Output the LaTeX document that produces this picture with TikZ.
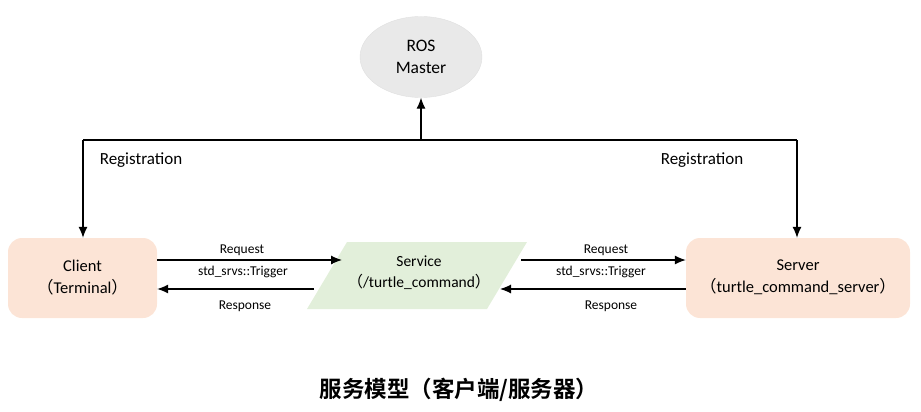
\documentclass[tikz,border=0pt]{standalone}
\usepackage{fontspec}
\setmainfont{Carlito}
\newfontfamily\cjk{Noto Sans CJK SC}
\newfontfamily\cjkbold{Noto Sans CJK SC Bold}
\usetikzlibrary{arrows.meta,shapes.geometric}
\definecolor{peach}{HTML}{FCE4D6}
\definecolor{svcgreen}{HTML}{E2EFDA}
\definecolor{mastergray}{HTML}{E9E9E9}
\tikzset{
  x=1pt,y=-1pt,
  conn/.style={line width=1.1pt,-{Latex[length=11pt,width=9pt]}},
  plain/.style={line width=1.1pt},
  endbox/.style={fill=peach,draw=none,rounded corners=14pt,minimum height=80pt,align=center,font=\fontsize{16.5}{22}\selectfont},
  lbl/.style={font=\fontsize{13.5}{15}\selectfont,inner sep=0pt},
  reg/.style={font=\fontsize{17}{19}\selectfont,inner sep=0pt},
}
\begin{document}
\begin{tikzpicture}
\useasboundingbox (0,0) rectangle (921,412);
% ROS Master
\node[ellipse,fill=mastergray,draw=black!12,minimum width=122pt,minimum height=81pt,align=center,font=\fontsize{17.5}{22}\selectfont] (master) at (421,57) {ROS\\Master};
% Client and Server
\node[endbox,minimum width=149pt] (client) at (82.5,278) {\raisebox{3pt}{Client}\\\raisebox{3pt}{{\cjk （}Terminal{\cjk ）}}};
\node[endbox,minimum width=224pt] (server) at (798,278) {\raisebox{3pt}{Server}\\\raisebox{3pt}{{\cjk （}turtle\_command\_server{\cjk ）}}};
% Service parallelogram
\path[fill=svcgreen] (347,242) -- (527,242) -- (487,309) -- (307,309) -- cycle;
\node[align=center,font=\fontsize{15.5}{21}\selectfont] (service) at (419,273) {Service\\{\cjk （}/turtle\_command{\cjk ）}};
\coordinate (sl1) at (342,260);
\coordinate (sl2) at (314,289);
\coordinate (sr1) at (521,260);
\coordinate (sr2) at (500,289);
% Registration lines
\coordinate (ml) at (83,140);
\coordinate (mc) at (421,140);
\coordinate (mr) at (797,140);
\draw[plain] (ml) -- (mr);
\draw[conn] (mc) -- (master.south);
\draw[conn] (ml) -- (client.north -| ml);
\draw[conn] (mr) -- (server.north -| mr);
\node[reg] (reg1) at (141,160) {Registration};
\node[reg] (reg2) at (702,160) {Registration};
% left arrows
\draw[conn] (client.east |- sl1) -- (sl1);
\draw[conn] (sl2) -- (client.east |- sl2);
\node[lbl] (rq1) at (242,250) {Request};
\node[lbl] (tr1) at (243,272) {std\_srvs::Trigger};
\node[lbl] (rs1) at (245,306) {Response};
% right arrows
\draw[conn] (sr1) -- (server.west |- sr1);
\draw[conn] (server.west |- sr2) -- (sr2);
\node[lbl] (rq2) at (606,250) {Request};
\node[lbl] (tr2) at (601,272) {std\_srvs::Trigger};
\node[lbl] (rs2) at (611,306) {Response};
% caption
\node[font=\cjkbold\fontsize{22.5}{25}\selectfont] (cap) at (459,390) {服务模型（客户端/服务器）};
\end{tikzpicture}
\end{document}
